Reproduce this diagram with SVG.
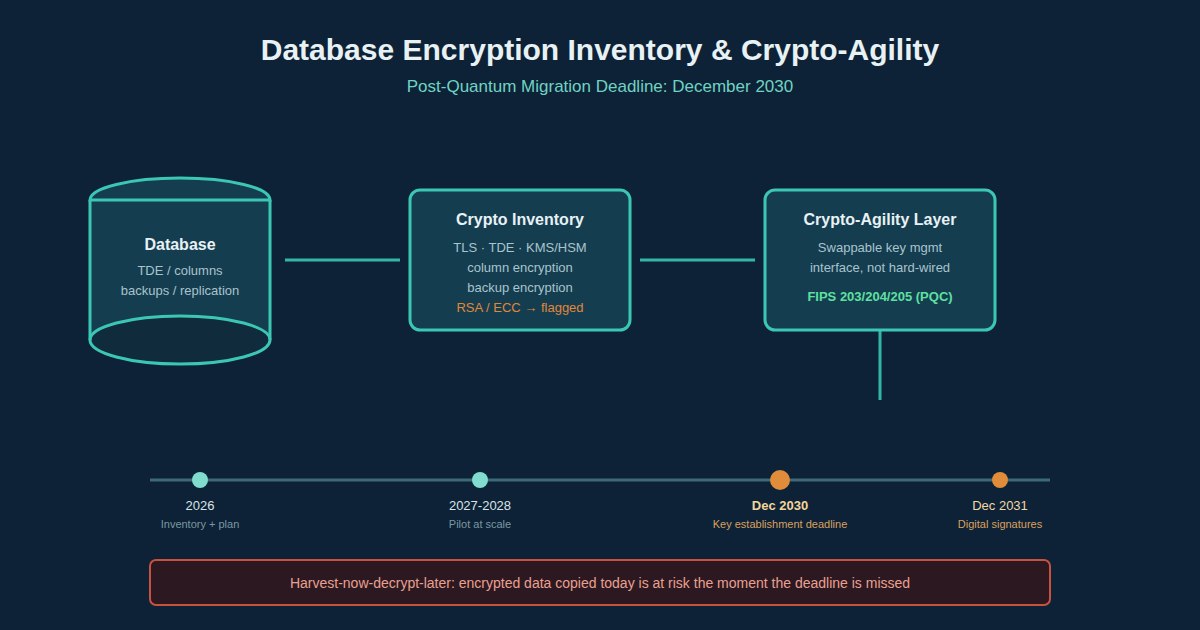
<svg xmlns="http://www.w3.org/2000/svg" width="1200" height="630" viewBox="0 0 1200 630">
<style>
.t{font-family:"Liberation Sans",Arial,sans-serif;text-anchor:middle}
.node{fill:#153d50;stroke:#3cc7b4;stroke-width:3}
.h{fill:#e8f1f4;font-weight:bold;font-size:16px}
.b{fill:#a8c4cc;font-size:13px}
.con{stroke:#35b5a5;stroke-width:3;fill:none}
</style>
<rect width="1200" height="630" fill="#0d2236"/>
<text class="t" x="600" y="60" fill="#e8f1f4" font-size="30" font-weight="bold">Database Encryption Inventory &amp; Crypto-Agility</text>
<text class="t" x="600" y="92" fill="#6fd3c3" font-size="17">Post-Quantum Migration Deadline: December 2030</text>
<g id="connectors">
<line class="con" x1="285" y1="260" x2="400" y2="260"/>
<line class="con" x1="640" y1="260" x2="755" y2="260"/>
<line class="con" x1="880" y1="330" x2="880" y2="400"/>
</g>
<g id="database">
<ellipse cx="180" cy="200" rx="90" ry="22" fill="#153d50" stroke="#3cc7b4" stroke-width="3"/>
<rect x="90" y="200" width="180" height="140" fill="#153d50"/>
<ellipse cx="180" cy="340" rx="90" ry="24" fill="#0f2b3c" stroke="#3cc7b4" stroke-width="3"/>
<path d="M90,200 L90,340 M270,200 L270,340" stroke="#3cc7b4" stroke-width="3"/>
<line x1="90" y1="200" x2="270" y2="200" stroke="#3cc7b4" stroke-width="3"/>
<text class="t h" x="180" y="250">Database</text>
<text class="t b" x="180" y="275">TDE / columns</text>
<text class="t b" x="180" y="295">backups / replication</text>
</g>
<g id="inventory">
<rect class="node" x="410" y="190" width="220" height="140" rx="10"/>
<text class="t h" x="520" y="225">Crypto Inventory</text>
<text class="t b" x="520" y="252">TLS · TDE · KMS/HSM</text>
<text class="t b" x="520" y="272">column encryption</text>
<text class="t b" x="520" y="292">backup encryption</text>
<text class="t" x="520" y="312" fill="#e0873a" font-size="13">RSA / ECC → flagged</text>
</g>
<g id="agility">
<rect class="node" x="765" y="190" width="230" height="140" rx="10"/>
<text class="t h" x="880" y="225">Crypto-Agility Layer</text>
<text class="t b" x="880" y="252">Swappable key mgmt</text>
<text class="t b" x="880" y="272">interface, not hard-wired</text>
<text class="t" x="880" y="301" fill="#5ee0a0" font-size="13" font-weight="bold">FIPS 203/204/205 (PQC)</text>
</g>
<g id="timeline">
<line x1="150" y1="480" x2="1050" y2="480" stroke="#3e6a76" stroke-width="3"/>
<circle cx="200" cy="480" r="8" fill="#7fdccf"/>
<circle cx="480" cy="480" r="8" fill="#7fdccf"/>
<circle cx="780" cy="480" r="10" fill="#e08c3a"/>
<circle cx="1000" cy="480" r="8" fill="#e08c3a"/>
<text class="t" x="200" y="510" fill="#d8e4e8" font-size="13">2026</text>
<text class="t" x="200" y="528" fill="#7a98a2" font-size="11">Inventory + plan</text>
<text class="t" x="480" y="510" fill="#d8e4e8" font-size="13">2027-2028</text>
<text class="t" x="480" y="528" fill="#7a98a2" font-size="11">Pilot at scale</text>
<text class="t" x="780" y="510" fill="#f3d59a" font-size="13" font-weight="bold">Dec 2030</text>
<text class="t" x="780" y="528" fill="#d9a060" font-size="11">Key establishment deadline</text>
<text class="t" x="1000" y="510" fill="#f0d8a8" font-size="13">Dec 2031</text>
<text class="t" x="1000" y="528" fill="#d9a060" font-size="11">Digital signatures</text>
</g>
<g id="warning">
<rect x="150" y="560" width="900" height="45" rx="6" fill="#2c1820" stroke="#c9523f" stroke-width="2"/>
<text class="t" x="600" y="588" fill="#eaa090" font-size="14">Harvest-now-decrypt-later: encrypted data copied today is at risk the moment the deadline is missed</text>
</g>
</svg>
